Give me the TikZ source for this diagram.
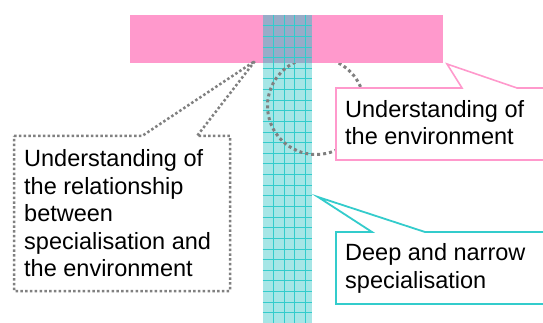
\documentclass[tikz,border=0pt]{standalone}
\usepackage{fontspec}
\setmainfont{Liberation Sans}
\definecolor{pinkc}{RGB}{255,153,204}
\definecolor{cyanline}{RGB}{51,204,204}
\definecolor{cyanfill}{RGB}{166,230,230}
\definecolor{overlapc}{RGB}{152,172,200}
\definecolor{dotgrey}{RGB}{128,128,128}
\tikzset{
  callouttext/.style={inner sep=0pt, anchor=base west, align=left,
    font=\fontsize{23.5}{27.5}\selectfont, text=black},
  gridline/.style={draw=cyanline, line width=0.7pt},
  greydots/.style={draw=dotgrey, line width=2.5pt, dash pattern=on 2.5pt off 2.3pt},
  circdots/.style={draw=dotgrey, line width=3pt, dash pattern=on 3pt off 3pt},
}
\begin{document}
\begin{tikzpicture}[x=1pt,y=-1pt]
\clip (0,0) rectangle (543,323);
\fill[white] (0,0) rectangle (543,323);
% column
\fill[cyanfill] (262.7,15) rectangle (311.7,325);
\foreach \gx in {273.3,283.9,294.5,305.1}
  \draw[gridline] (\gx,15) -- (\gx,325);
\foreach \k in {1,...,29}
  \draw[gridline] (262.7,{15+\k*10.63}) -- (311.7,{15+\k*10.63});
% dotted circle
\draw[circdots] (316,106) circle (48.5);
% pink bar
\fill[pinkc] (130,15) rectangle (443,63);
\fill[overlapc] (262.7,15) rectangle (311.7,63);
\begin{scope}
\clip (262.7,15) rectangle (311.7,63);
\foreach \gx in {273.3,283.9,294.5,305.1}
  \draw[gridline] (\gx,15) -- (\gx,63);
\foreach \k in {1,...,4}
  \draw[gridline] (262.7,{15+\k*10.63}) -- (311.7,{15+\k*10.63});
\end{scope}
% pink callout
\coordinate (ptip) at (447,64);
\draw[pinkc, line width=1.6pt, fill=white, line join=miter]
  (336,88) -- (462,88) -- (ptip) -- (517,88) -- (550,88) -- (550,160) -- (336,160) -- cycle;
\node[callouttext] (envtext) at (345,145) {Understanding of\\the environment};
% cyan callout
\coordinate (ctip) at (318,197);
\draw[cyanline, line width=1.8pt, fill=white, line join=miter]
  (336,232) -- (372,232) -- (ctip) -- (425,232) -- (550,232) -- (550,304) -- (336,304) -- cycle;
\node[callouttext] (spectext) at (345,288.3) {Deep and narrow\\specialisation};
% grey callout
\coordinate (gtip) at (255,61);
\fill[white] (14,136) -- (142,136) -- (gtip) -- (197,136) -- (230,136) -- (230,291) -- (14,291) -- cycle;
\draw[greydots]
  (14,136) -- (142,136) -- (gtip) -- (197,136) -- (230,136) -- (230,291) -- (14,291) -- cycle;
\node[callouttext] (reltext) at (24,276.7) {Understanding of\\the relationship\\between\\specialisation and\\the environment};
\end{tikzpicture}
\end{document}
